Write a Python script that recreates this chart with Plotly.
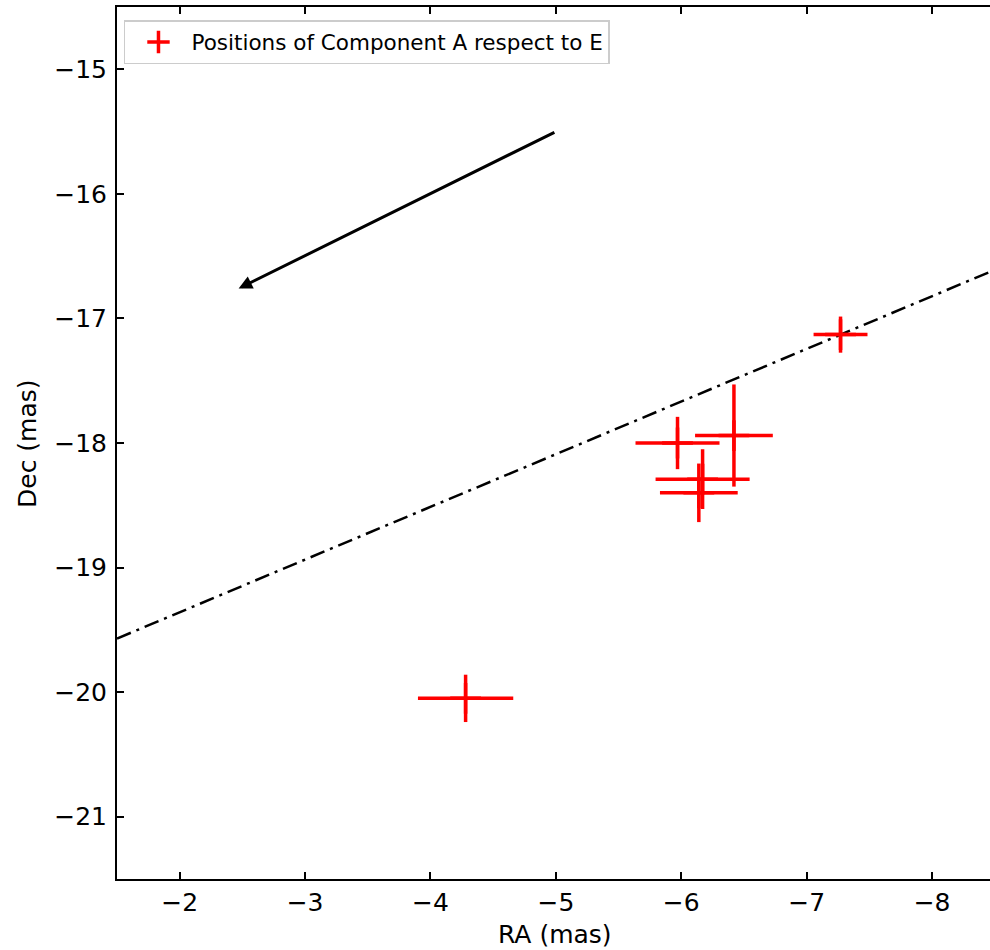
import plotly.graph_objects as go

# Data
ra = [-4.28, -7.27, -5.97, -6.42, -6.17, -6.14]
dec = [-20.05, -17.13, -18.00, -17.94, -18.29, -18.40]
ra_err = [0.38, 0.215, 0.335, 0.31, 0.375, 0.31]
dec_err = [0.19, 0.145, 0.21, 0.41, 0.24, 0.235]

line_ra = [-1.5, -8.5]
line_dec = [-19.57, -16.61]

arrow_start = (-5.0, -15.5)
arrow_end = (-2.47, -16.76)

x_ticks = [-2, -3, -4, -5, -6, -7, -8]
y_ticks = [-15, -16, -17, -18, -19, -20, -21]

FONT = "DejaVu Sans"
FS = 25

fig = go.Figure()

fig.add_trace(go.Scatter(
    x=line_ra, y=line_dec, mode="lines",
    line=dict(color="black", width=2.5, dash="15px,6px,3px,6px"),
    showlegend=False, hoverinfo="skip",
))

fig.add_trace(go.Scatter(
    x=ra, y=dec, mode="markers",
    name="Positions of Component A respect to E",
    marker=dict(symbol="cross-thin", size=22, color="red",
                line=dict(color="red", width=3.5)),
    error_x=dict(type="data", array=ra_err, color="red", thickness=3.5, width=0),
    error_y=dict(type="data", array=dec_err, color="red", thickness=3.5, width=0),
))

fig.add_annotation(
    x=arrow_end[0], y=arrow_end[1], ax=arrow_start[0], ay=arrow_start[1],
    xref="x", yref="y", axref="x", ayref="y",
    text="", showarrow=True, arrowhead=2, arrowsize=0.9, arrowwidth=3,
    arrowcolor="black", standoff=0,
)

fig.add_annotation(
    text="RA (mas)", xref="paper", yref="paper", x=0.5017, y=-0.0642,
    xanchor="center", yanchor="middle", showarrow=False,
    font=dict(family=FONT, size=FS, color="black"),
)
fig.add_annotation(
    text="Dec (mas)", xref="paper", yref="paper", x=-0.1031, y=0.5,
    xanchor="center", yanchor="middle", showarrow=False, textangle=-90,
    font=dict(family=FONT, size=FS, color="black"),
)

axis_common = dict(
    showgrid=False, zeroline=False, showline=True, linecolor="black",
    linewidth=2, ticks="inside", ticklen=7, tickwidth=2, tickcolor="black",
    tickfont=dict(family=FONT, size=FS, color="black"),
)

fig.update_layout(
    width=990, height=950,
    margin=dict(l=117, r=0, t=7, b=71),
    plot_bgcolor="white", paper_bgcolor="white",
    xaxis=dict(range=[-1.5, -8.462], tickvals=x_ticks, mirror="ticks",
               **axis_common),
    yaxis=dict(range=[-21.5, -14.5], tickvals=y_ticks, mirror=False,
               ticklabelstandoff=3, **axis_common),
    yaxis2=dict(range=[-21.5, -14.5], tickvals=y_ticks, overlaying="y",
                side="right", showline=False, showgrid=False, zeroline=False,
                ticks="inside", ticklen=4, tickwidth=2, tickcolor="black",
                showticklabels=False),
    legend=dict(x=0.008, y=0.985, xanchor="left", yanchor="top",
                bgcolor="white", bordercolor="#cccccc", borderwidth=1.5,
                font=dict(family=FONT, size=21.5, color="black"),
                itemwidth=56),
    showlegend=True,
)

fig.write_html(
    "out.html",
    config={"displayModeBar": False},
    post_script="document.body.style.margin='0';document.body.style.overflow='hidden';",
)
